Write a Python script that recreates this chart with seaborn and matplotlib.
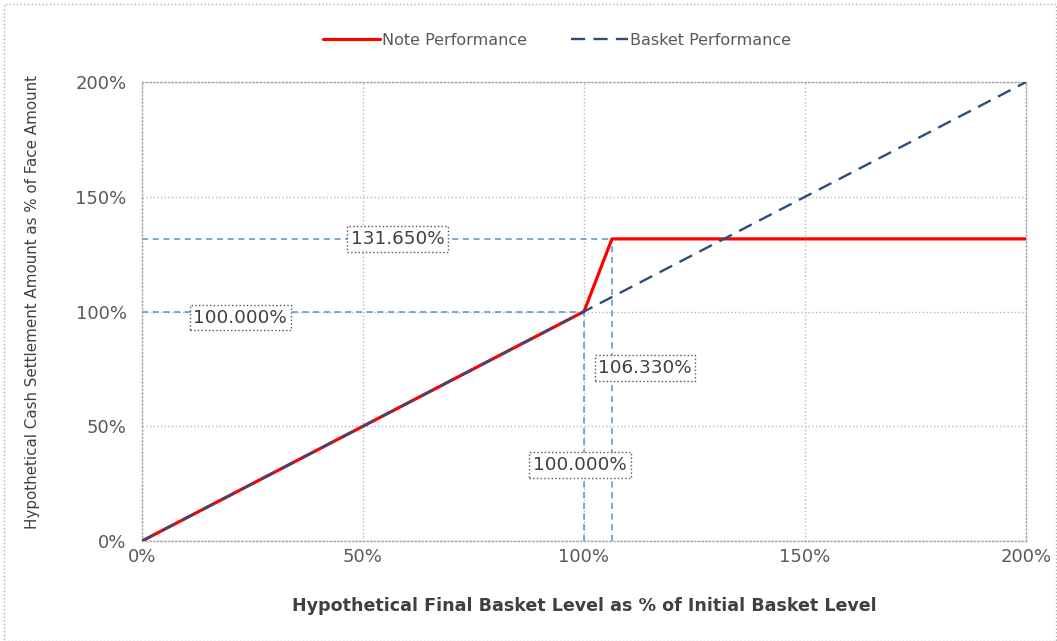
import matplotlib
matplotlib.use("Agg")
import matplotlib.pyplot as plt
import seaborn as sns
import pandas as pd
from matplotlib.patches import Rectangle
from matplotlib.ticker import PercentFormatter

#Data (percent of initial basket level / face amount)
basket_level = [0, 100, 106.33, 200]
note_perf = [0, 100, 131.65, 131.65]
basket_perf = [0, 100, 106.33, 200]

#Reference markers
cap_level = 106.33
cap_return = 131.65
start_level = 100.0

ticks = [0, 50, 100, 150, 200]

df = pd.DataFrame({"level": basket_level, "note": note_perf, "basket": basket_perf})

sns.set_theme(style="white")
plt.rcParams["font.family"] = ["DejaVu Sans"]

fig = plt.figure(figsize=(10.57, 6.41), dpi=100)
ax = fig.add_axes([0.1343, 0.156, 0.8364, 0.716])

grey_txt = "#595959"
ref_blue = "#5b8fd0"

#Guide lines
ax.plot([0, start_level], [start_level, start_level], ls=(0, (4, 3)), color=ref_blue, lw=1.1, zorder=2)
ax.plot([0, cap_level], [cap_return, cap_return], ls=(0, (4, 3)), color=ref_blue, lw=1.1, zorder=2)
ax.plot([start_level, start_level], [0, start_level], ls=(0, (4, 3)), color=ref_blue, lw=1.1, zorder=2)
ax.plot([cap_level, cap_level], [0, cap_return], ls=(0, (4, 3)), color=ref_blue, lw=1.1, zorder=2)

sns.lineplot(data=df, x="level", y="note", ax=ax, color="#ff0000", lw=2.3,
             label="Note Performance", zorder=3)
sns.lineplot(data=df, x="level", y="basket", ax=ax, color="#2e4d7b", lw=1.7,
             label="Basket Performance", zorder=4)
ax.lines[-1].set_linestyle((0, (6, 3.5)))

#Value boxes
box = dict(boxstyle="square,pad=0.2", fc="white", ec="#555555", lw=1.0, ls=":")
txt_kw = dict(ha="center", va="center", fontsize=13.2, color="#404040", bbox=box, zorder=5)
ax.text(57.9, cap_return, f"{cap_return:.3f}%", **txt_kw)
ax.text(22.2, 97.3, f"{start_level:.3f}%", **txt_kw)
ax.text(113.8, 75.4, f"{cap_level:.3f}%", **txt_kw)
ax.text(99.1, 33.1, f"{start_level:.3f}%", **txt_kw)

ax.set_xlim(0, 200)
ax.set_ylim(0, 200)
ax.set_xticks(ticks)
ax.set_yticks(ticks)
ax.xaxis.set_major_formatter(PercentFormatter(decimals=0))
ax.yaxis.set_major_formatter(PercentFormatter(decimals=0))
ax.tick_params(colors=grey_txt, labelsize=13, length=0)
ax.tick_params(axis="y", pad=11)
ax.tick_params(axis="x", pad=5)
ax.grid(True, ls=":", color="#b8b8b8", lw=1.0)
for s in ax.spines.values():
    s.set_linestyle(":")
    s.set_color("#a8a8a8")
    s.set_linewidth(1.0)

ax.set_xlabel("Hypothetical Final Basket Level as % of Initial Basket Level",
              fontsize=12.6, fontweight="bold", color="#404040", labelpad=22)
ax.set_ylabel("Hypothetical Cash Settlement Amount as % of Face Amount",
              fontsize=10.9, color="#404040")
ax.yaxis.set_label_coords(-0.115, 0.52)

handles, labels = ax.get_legend_handles_labels()
leg = fig.legend(handles, labels,
                 loc="center", bbox_to_anchor=(0.527, 0.937), ncol=2, frameon=False,
                 fontsize=11.5, handlelength=3.6, handletextpad=0.15, columnspacing=2.7)
for t in leg.get_texts():
    t.set_color(grey_txt)
ax.get_legend().remove()

#Outer dotted frame
fig.patches.append(Rectangle((0.004, 0.0), 0.995, 0.994, transform=fig.transFigure,
                             fill=False, ls=":", ec="#b0b0b0", lw=1.0))

fig.savefig("out.png", dpi=100)
